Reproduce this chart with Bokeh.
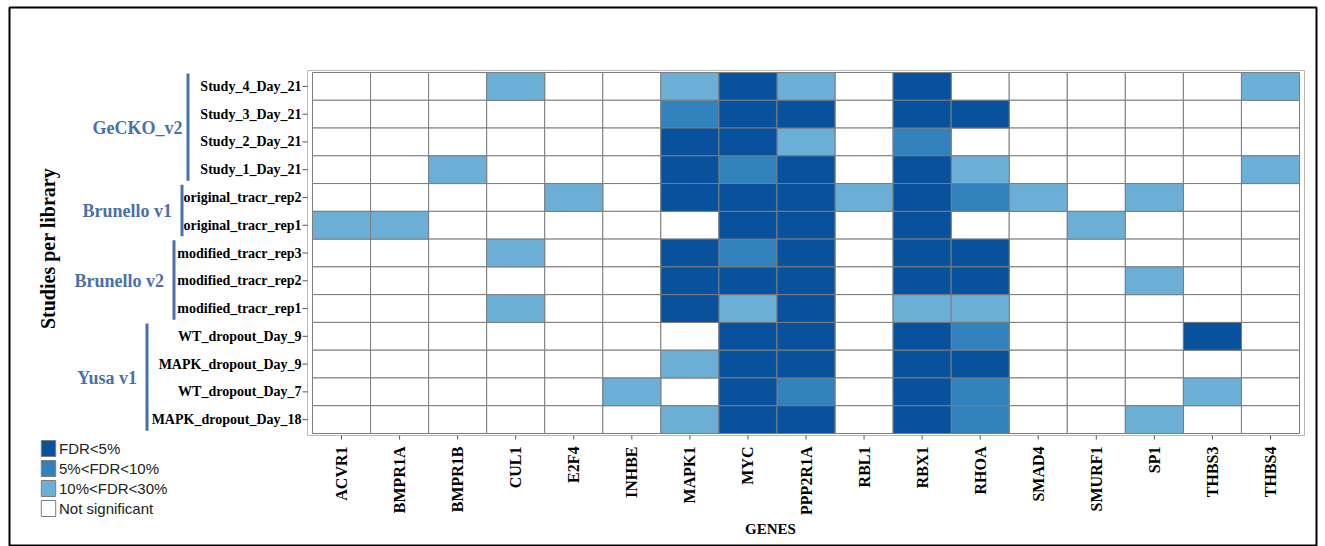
import math
from bokeh.plotting import figure
from bokeh.models import ColumnDataSource, Range1d, Legend, LegendItem
from bokeh.core.properties import value
from bokeh.embed import file_html
from bokeh.resources import INLINE

genes = ["ACVR1", "BMPR1A", "BMPR1B", "CUL1", "E2F4", "INHBE", "MAPK1", "MYC",
         "PPP2R1A", "RBL1", "RBX1", "RHOA", "SMAD4", "SMURF1", "SP1", "THBS3", "THBS4"]

studies = ["Study_4_Day_21", "Study_3_Day_21", "Study_2_Day_21", "Study_1_Day_21",
           "original_tracr_rep2", "original_tracr_rep1",
           "modified_tracr_rep3", "modified_tracr_rep2", "modified_tracr_rep1",
           "WT_dropout_Day_9", "MAPK_dropout_Day_9", "WT_dropout_Day_7", "MAPK_dropout_Day_18"]

group_names = ["GeCKO_v2", "Brunello  v1", "Brunello  v2", "Yusa  v1"]
group_sizes = [4, 2, 3, 4]

# significance level per cell: 3 = FDR<5%, 2 = 5%<FDR<10%, 1 = 10%<FDR<30%, 0 = not significant
#                      AC BA BB CU E2 IN MA MY PP RL RX RH SM SU SP T3 T4
study_4_day_21      = [0, 0, 0, 1, 0, 0, 1, 3, 1, 0, 3, 0, 0, 0, 0, 0, 1]
study_3_day_21      = [0, 0, 0, 0, 0, 0, 2, 3, 3, 0, 3, 3, 0, 0, 0, 0, 0]
study_2_day_21      = [0, 0, 0, 0, 0, 0, 3, 3, 1, 0, 2, 0, 0, 0, 0, 0, 0]
study_1_day_21      = [0, 0, 1, 0, 0, 0, 3, 2, 3, 0, 3, 1, 0, 0, 0, 0, 1]
original_tracr_rep2 = [0, 0, 0, 0, 1, 0, 3, 3, 3, 1, 3, 2, 1, 0, 1, 0, 0]
original_tracr_rep1 = [1, 1, 0, 0, 0, 0, 0, 3, 3, 0, 3, 0, 0, 1, 0, 0, 0]
modified_tracr_rep3 = [0, 0, 0, 1, 0, 0, 3, 2, 3, 0, 3, 3, 0, 0, 0, 0, 0]
modified_tracr_rep2 = [0, 0, 0, 0, 0, 0, 3, 3, 3, 0, 3, 3, 0, 0, 1, 0, 0]
modified_tracr_rep1 = [0, 0, 0, 1, 0, 0, 3, 1, 3, 0, 1, 1, 0, 0, 0, 0, 0]
wt_dropout_day_9    = [0, 0, 0, 0, 0, 0, 0, 3, 3, 0, 3, 2, 0, 0, 0, 3, 0]
mapk_dropout_day_9  = [0, 0, 0, 0, 0, 0, 1, 3, 3, 0, 3, 3, 0, 0, 0, 0, 0]
wt_dropout_day_7    = [0, 0, 0, 0, 0, 1, 0, 3, 2, 0, 3, 2, 0, 0, 0, 1, 0]
mapk_dropout_day_18 = [0, 0, 0, 0, 0, 0, 1, 3, 3, 0, 3, 2, 0, 0, 1, 0, 0]

level_rows = [study_4_day_21, study_3_day_21, study_2_day_21, study_1_day_21,
              original_tracr_rep2, original_tracr_rep1,
              modified_tracr_rep3, modified_tracr_rep2, modified_tracr_rep1,
              wt_dropout_day_9, mapk_dropout_day_9, wt_dropout_day_7, mapk_dropout_day_18]

level_labels = ["Not significant", "10%<FDR<30%", "5%<FDR<10%", "FDR<5%"]
level_colors = ["#ffffff", "#6baed6", "#3182bd", "#08519c"]

SERIF = value("Liberation Serif")
GROUP_COLOR = "#4a70aa"

# ---- layout geometry (picture pixels) ----
W, H = 1325, 546
PANEL_PX = (307, 1304, 70, 435)          # heatmap panel: left, right, top, bottom
NG, NS = len(genes), len(studies)
PAD_X, PAD_Y = 0.086, 0.072               # panel padding around the cells (cell units)
PX_X = (PANEL_PX[1] - PANEL_PX[0]) / (NG + 2 * PAD_X)
PX_Y = (PANEL_PX[3] - PANEL_PX[2]) / (NS + 2 * PAD_Y)


def xpx(px):
    return -PAD_X + (px - PANEL_PX[0]) / PX_X


def ypx(py):
    return NS + PAD_Y - (py - PANEL_PX[2]) / PX_Y


p = figure(width=W, height=H, output_backend="svg", toolbar_location=None,
           x_range=Range1d(xpx(0), xpx(W)), y_range=Range1d(ypx(H), ypx(0)),
           x_axis_type=None, y_axis_type=None, min_border=0)
p.grid.visible = False
p.outline_line_color = None
p.background_fill_color = "white"
p.border_fill_color = "white"

# outer black frame of the figure
p.quad(left=[xpx(9)], right=[xpx(1316)], top=[ypx(7)], bottom=[ypx(545)],
       fill_color=None, line_color="black", line_width=2)

# ---- heatmap cells ----
renderers = []
for lvl in range(4):
    xs, ys = [], []
    for j, row in enumerate(level_rows):
        for i, v in enumerate(row):
            if v == lvl:
                xs.append(i + 0.5)
                ys.append(NS - j - 0.5)
    src = ColumnDataSource(data=dict(x=xs, y=ys))
    r = p.rect(x="x", y="y", width=1, height=1, source=src,
               fill_color=level_colors[lvl], line_color="#7d7d7d", line_width=1)
    renderers.append(r)

# panel border
p.quad(left=[-PAD_X], right=[NG + PAD_X], bottom=[-PAD_Y], top=[NS + PAD_Y],
       fill_color=None, line_color="#b8b8b8", line_width=1)

# ---- x axis: ticks + labels ----
gx = [i + 0.5 for i in range(NG)]
p.segment(x0=gx, x1=gx, y0=[-PAD_Y] * NG, y1=[-PAD_Y - 4 / PX_Y] * NG,
          line_color="#555555", line_width=1)
p.text(x=gx, y=[ypx(446)] * NG, text=genes, angle=math.pi / 2,
       text_align="right", text_baseline="middle", text_font=SERIF,
       text_font_style="bold", text_font_size="16px", text_color="black")

# ---- y axis: ticks + labels ----
sy = [NS - j - 0.5 for j in range(NS)]
p.segment(x0=[-PAD_X] * NS, x1=[-PAD_X - 5 / PX_X] * NS, y0=sy, y1=sy,
          line_color="#555555", line_width=1)
p.text(x=[xpx(301)] * NS, y=sy, text=studies, text_align="right", text_baseline="middle",
       text_font=SERIF, text_font_style="bold", text_font_size="14px", text_color="black")

# axis titles
p.text(x=[xpx(47)], y=[ypx(248)], text=["Studies per library"], angle=math.pi / 2,
       text_align="center", text_baseline="middle", text_font=SERIF,
       text_font_style="bold", text_font_size="20px", text_color="black")
p.text(x=[xpx(770)], y=[ypx(528)], text=["GENES"], text_align="center",
       text_baseline="middle", text_font=SERIF, text_font_style="bold",
       text_font_size="15px", text_color="black")

# ---- library groups: bars + labels ----
bar_px = [186, 180, 172, 145]
start = 0
for name, size, bx in zip(group_names, group_sizes, bar_px):
    top = NS - start - 0.04
    bottom = NS - start - size + 0.1
    p.quad(left=[xpx(bx)], right=[xpx(bx + 3)], top=[top], bottom=[bottom],
           fill_color=GROUP_COLOR, line_color=None)
    p.text(x=[xpx(bx - 4)], y=[NS - start - size / 2], text=[name], text_align="right",
           text_baseline="middle", text_font=SERIF, text_font_style="bold",
           text_font_size="18px", text_color=GROUP_COLOR)
    start += size

# ---- legend ----
legend = Legend(
    items=[LegendItem(label=level_labels[l], renderers=[renderers[l]]) for l in (3, 2, 1, 0)],
    location=(39, H - 518), orientation="vertical",
    glyph_width=18, glyph_height=20, label_height=20, spacing=0, padding=0, margin=0,
    label_standoff=2, label_text_font="Liberation Sans", label_text_font_size="15px",
    label_text_color="#222222", border_line_color=None, background_fill_alpha=0,
)
p.add_layout(legend)

open("out.html", "w").write(file_html(p, INLINE))
